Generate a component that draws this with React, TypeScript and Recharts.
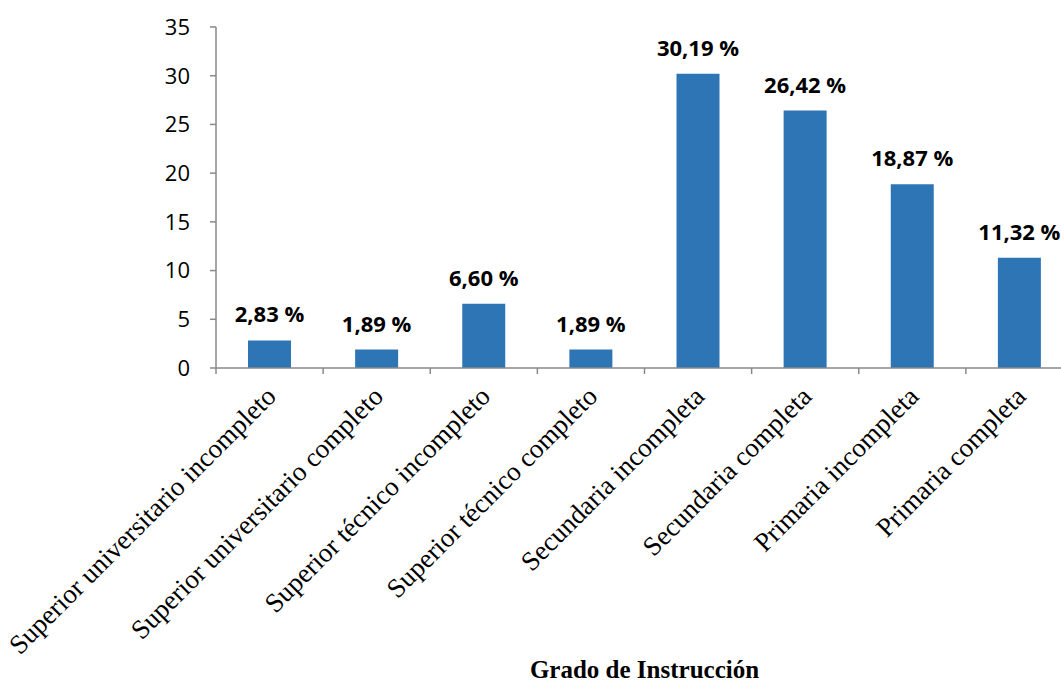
import React from "react";
import { BarChart, Bar, XAxis, YAxis, LabelList } from "recharts";

const categories = [
  "Superior universitario incompleto",
  "Superior universitario completo",
  "Superior técnico incompleto",
  "Superior técnico completo",
  "Secundaria incompleta",
  "Secundaria completa",
  "Primaria incompleta",
  "Primaria completa",
];
const percentages = [2.83, 1.89, 6.6, 1.89, 30.19, 26.42, 18.87, 11.32];
const yTicks = [0, 5, 10, 15, 20, 25, 30, 35];

const data = categories.map((name, i) => ({ name, value: percentages[i] }));

const CHART_W = 1080;
const CHART_H = 690;
const MARGIN = { top: 27, right: 7, left: 156, bottom: 0 };
const Y_AXIS_W = 60;
const BAND = (CHART_W - MARGIN.left - MARGIN.right - Y_AXIS_W) / categories.length;
const AXIS_COLOR = "#898989";
const SERIF = "'Liberation Serif', 'Times New Roman', serif";
const SANS = "'Open Sans', sans-serif";

const formatPct = (v: number) => v.toFixed(2).replace(".", ",") + " %";

// category label rotated 45°, with tick marks drawn on the band boundaries
const CategoryTick = (props: any) => {
  const { x, y, payload, index } = props;
  const last = index === categories.length - 1;
  return (
    <g>
      <line x1={x - BAND / 2} y1={y} x2={x - BAND / 2} y2={y + 6} stroke={AXIS_COLOR} strokeWidth={1.5} />
      {last && (
        <line x1={x + BAND / 2} y1={y} x2={x + BAND / 2} y2={y + 6} stroke={AXIS_COLOR} strokeWidth={1.5} />
      )}
      <text
        x={0}
        y={0}
        transform={`translate(${x + 8},${y + 30}) rotate(-45)`}
        textAnchor="end"
        fontFamily={SERIF}
        fontSize={27}
        fill="#000"
      >
        {payload.value}
      </text>
    </g>
  );
};

// percentage text above each bar, kept on a single line
const ValueLabel = (props: any) => {
  const { x, y, width, value } = props;
  return (
    <text
      x={x + width / 2}
      y={y - 18}
      textAnchor="middle"
      fontFamily={SANS}
      fontSize={22}
      fontWeight="bold"
      fill="#000"
    >
      {formatPct(Number(value))}
    </text>
  );
};

export default function App() {
  return (
    <div
      style={{
        position: "absolute",
        left: 0,
        top: 0,
        width: 1061,
        height: 690,
        overflow: "hidden",
        background: "#fff",
      }}
    >
      <BarChart width={CHART_W} height={CHART_H} data={data} margin={MARGIN}>
        <YAxis
          width={Y_AXIS_W}
          domain={[0, 35]}
          ticks={yTicks}
          interval={0}
          axisLine={{ stroke: AXIS_COLOR, strokeWidth: 1.5 }}
          tickLine={{ stroke: AXIS_COLOR, strokeWidth: 1.5 }}
          tickSize={6}
          tickMargin={20}
          tick={{ fill: "#000", fontSize: 22, fontFamily: SANS }}
        />
        <XAxis
          dataKey="name"
          height={322}
          interval={0}
          axisLine={{ stroke: AXIS_COLOR, strokeWidth: 1.5 }}
          tickLine={false}
          tickSize={0}
          tickMargin={0}
          tick={<CategoryTick />}
          label={{
            value: "Grado de Instrucción",
            position: "insideBottom",
            offset: 12,
            fill: "#000",
            fontSize: 25,
            fontWeight: "bold",
            fontFamily: SERIF,
          }}
        />
        <Bar dataKey="value" fill="#2E75B6" barSize={43} isAnimationActive={false}>
          <LabelList dataKey="value" content={<ValueLabel />} />
        </Bar>
      </BarChart>
    </div>
  );
}
